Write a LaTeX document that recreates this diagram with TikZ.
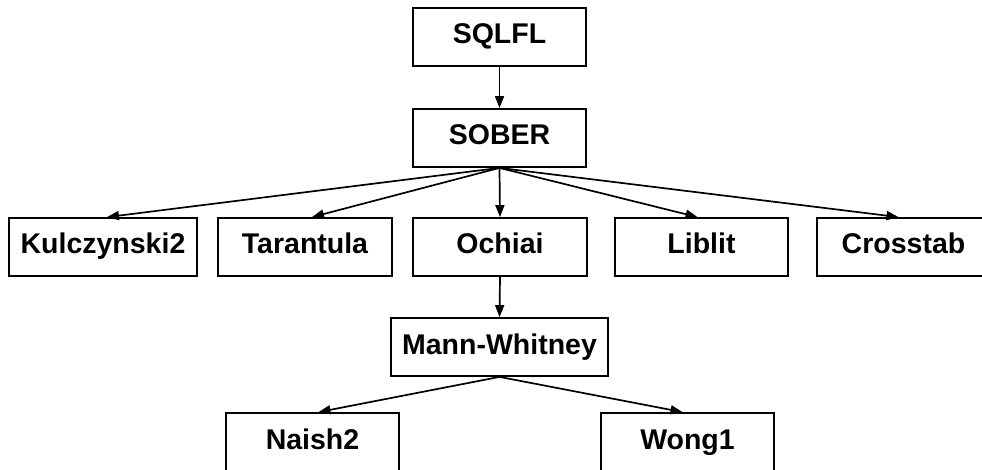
\documentclass[tikz,border=0pt]{standalone}
\usepackage{fontspec}
\setmainfont{Liberation Sans}
\usetikzlibrary{arrows.meta}
\begin{document}
\begin{tikzpicture}[x=1pt,y=-1pt,
  box/.style={draw,line width=1.8pt,minimum width=173pt,minimum height=58pt,inner sep=0pt,text height=21pt,text depth=7pt,font=\fontsize{28.5}{32}\selectfont\bfseries},
  link/.style={line width=1.7pt,-{Triangle[length=12pt,width=9pt]}}]
\useasboundingbox (0,0) rectangle (982,470);
\node[box] (sqlfl) at (499.5,37) {SQLFL};
\node[box] (sober) at (499.5,138) {SOBER};
\node[box,minimum width=188pt] (kul) at (103,247) {Kulczynski2};
\node[box,minimum width=174pt] (tar) at (305,247) {Tarantula};
\node[box,minimum width=174pt] (och) at (500,247) {Ochiai};
\node[box] (lib) at (701.5,247) {Liblit};
\node[box] (cro) at (903.5,247) {Crosstab};
\node[box,minimum width=217pt] (mw) at (499.5,347) {Mann-Whitney};
\node[box] (nai) at (312.5,442) {Naish2};
\node[box] (won) at (687.5,442) {Wong1};
\draw[link] (sqlfl.south) -- (sober.north);
\draw[link] (sober.south) -- ([xshift=4pt]kul.north);
\draw[link] (sober.south) -- ([xshift=7pt]tar.north);
\draw[link] (sober.south) -- (och.north);
\draw[link] (sober.south) -- ([xshift=-4pt]lib.north);
\draw[link] (sober.south) -- ([xshift=-5pt]cro.north);
\draw[link] (och.south) -- (mw.north);
\draw[link] (mw.south) -- ([xshift=6pt]nai.north);
\draw[link] (mw.south) -- ([xshift=-5pt]won.north);
\end{tikzpicture}
\end{document}
